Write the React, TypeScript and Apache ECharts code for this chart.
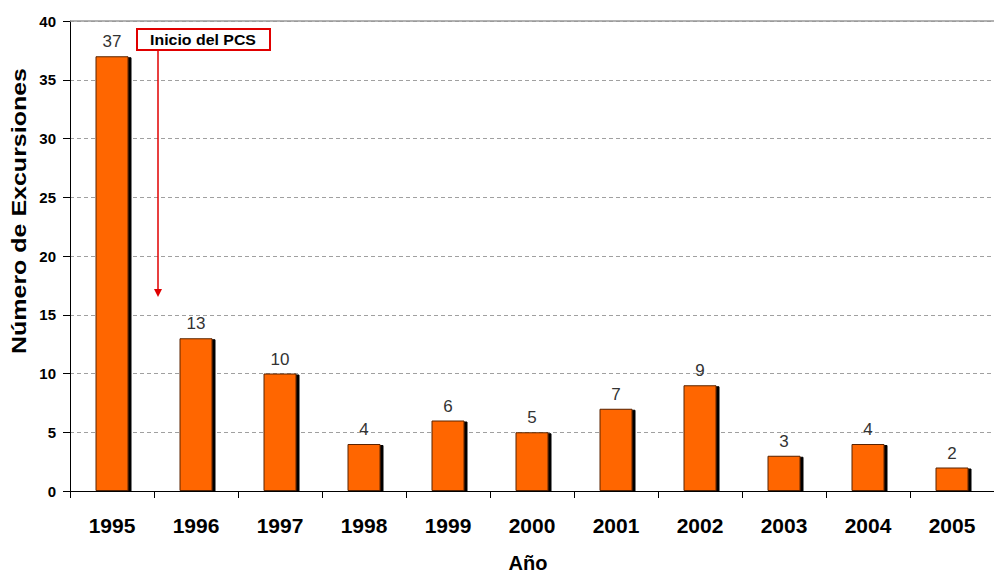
import React, { useEffect, useRef } from "react";
import * as echarts from "echarts";

// Excursiones registradas por año
const years = ["1995", "1996", "1997", "1998", "1999", "2000", "2001", "2002", "2003", "2004", "2005"];
const excursions = [37, 13, 10, 4, 6, 5, 7, 9, 3, 4, 2];
const yTicks = { min: 0, max: 40, interval: 5 };

const FONT = "Arial, 'Liberation Sans', sans-serif";
const RED = "#e00000";

export default function App() {
  const ref = useRef<HTMLDivElement>(null);

  useEffect(() => {
    if (!ref.current) return;
    const chart = echarts.init(ref.current, undefined, { renderer: "svg" });
    chart.setOption({
      animation: false,
      backgroundColor: "#ffffff",
      grid: { left: 70, right: -12, top: 21, bottom: 82, containLabel: false },
      xAxis: {
        type: "category",
        data: years,
        axisLine: { lineStyle: { color: "#000", width: 1 } },
        axisTick: { show: true, length: 7, lineStyle: { color: "#000" } },
        axisLabel: {
          color: "#000",
          fontFamily: FONT,
          fontWeight: "bold",
          fontSize: 21,
          margin: 24,
        },
      },
      yAxis: {
        type: "value",
        min: yTicks.min,
        max: yTicks.max,
        interval: yTicks.interval,
        axisLine: { show: true, lineStyle: { color: "#000", width: 1 } },
        axisTick: { show: true, length: 7, lineStyle: { color: "#000" } },
        axisLabel: {
          color: "#000",
          fontFamily: FONT,
          fontWeight: "bold",
          fontSize: 15,
          margin: 14,
        },
        splitLine: {
          show: true,
          lineStyle: { color: "#a0a0a0", type: [4, 3], width: 1 },
        },
      },
      series: [
        {
          type: "bar",
          data: excursions,
          barWidth: 33,
          itemStyle: {
            color: "#ff6600",
            borderColor: "#5a2400",
            borderWidth: 1,
            shadowColor: "#000",
            shadowBlur: 0,
            shadowOffsetX: 3,
            shadowOffsetY: 1,
          },
          label: {
            show: true,
            position: "top",
            distance: 6,
            color: "#333",
            fontFamily: FONT,
            fontSize: 17,
          },
          markLine: {
            silent: true,
            symbol: "none",
            label: { show: false },
            lineStyle: { color: "#999", type: "solid", width: 1.5 },
            data: [{ yAxis: 40 }],
          },
        },
      ],
      graphic: [
        {
          type: "text",
          x: 19,
          y: 211,
          rotation: Math.PI / 2,
          scaleX: 1.25,
          style: {
            text: "Número de Excursiones",
            fill: "#000",
            font: `bold 20px ${FONT}`,
            align: "center",
            verticalAlign: "middle",
          },
        },
        {
          type: "text",
          x: 528,
          y: 563,
          style: {
            text: "Año",
            fill: "#000",
            font: `bold 20px ${FONT}`,
            align: "center",
            verticalAlign: "middle",
          },
        },
        {
          type: "rect",
          shape: { x: 137, y: 29, width: 133, height: 21 },
          style: { fill: "#fff", stroke: RED, lineWidth: 2 },
          z: 10,
        },
        {
          type: "text",
          x: 203,
          y: 40,
          scaleX: 1.06,
          style: {
            text: "Inicio del PCS",
            fill: "#000",
            font: `bold 15px ${FONT}`,
            align: "center",
            verticalAlign: "middle",
          },
          z: 11,
        },
        {
          type: "line",
          shape: { x1: 158, y1: 51, x2: 158, y2: 291 },
          style: { stroke: RED, lineWidth: 1.5 },
          z: 10,
        },
        {
          type: "polygon",
          shape: { points: [[154, 289], [162, 289], [158, 297]] },
          style: { fill: RED },
          z: 10,
        },
      ],
    });
    return () => chart.dispose();
  }, []);

  return (
    <div
      ref={ref}
      style={{ position: "fixed", left: 0, top: 0, width: 994, height: 573 }}
    />
  );
}
